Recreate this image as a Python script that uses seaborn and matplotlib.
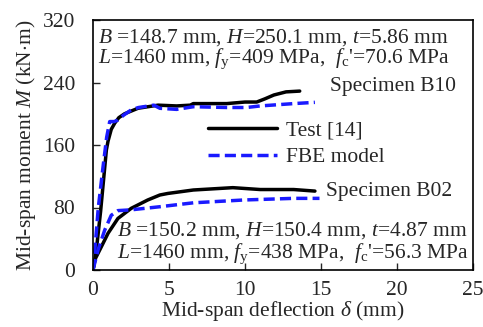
import numpy as np
import pandas as pd
import matplotlib
matplotlib.use("Agg")
import matplotlib.pyplot as plt
import seaborn as sns

# ---- data ----
b10_test_x = [0, 0.1, 0.22, 0.5, 0.88, 0.99, 1.2, 1.43, 1.7, 2.08, 2.96, 4.28, 5.5, 6.4, 6.6, 8.8, 10.0, 10.77, 11.3, 11.9, 12.7, 13.6]
b10_test_y = [0, 10, 25.6, 75, 153.6, 165, 180, 188, 195, 200, 207, 211, 210, 211, 213, 213, 215, 215, 219, 224, 228, 229]

b10_fbe_x = [0, 0.1, 0.35, 0.66, 0.9, 1.1, 1.4, 1.64, 2.0, 2.52, 3.0, 4.0, 4.4, 5.5, 6.6, 8.8, 10.1, 11.0, 13.2, 14.6]
b10_fbe_y = [0, 21, 80, 132, 170, 190, 190, 192, 198, 205, 208, 211, 207, 205.6, 209, 208, 208, 210, 213, 214.6]

b02_test_x = [0, 0.11, 0.55, 0.99, 1.64, 2.52, 3.6, 4.4, 4.93, 6.6, 9.2, 11.0, 13.2, 14.6]
b02_test_y = [0, 12.8, 29.8, 47, 66, 79, 89.6, 96, 98, 102.4, 105.4, 103, 103, 101]

b02_fbe_x = [0, 0.33, 0.77, 1.2, 1.64, 2.5, 4.4, 6.6, 9.9, 13.2, 14.9]
b02_fbe_y = [0, 25.6, 51, 70, 76, 77, 81, 86, 89.6, 91.7, 91.7]

x_ticks = [0, 5, 10, 15, 20, 25]
y_ticks = [0, 80, 160, 240, 320]

sns.set_style("ticks")
plt.rcParams["font.family"] = ["Liberation Serif", "DejaVu Serif"]
plt.rcParams["mathtext.fontset"] = "custom"
plt.rcParams["mathtext.rm"] = "Liberation Serif"
plt.rcParams["mathtext.it"] = "Liberation Serif:italic"
plt.rcParams["mathtext.bf"] = "Liberation Serif:bold"

fig = plt.figure(figsize=(4.83, 3.27), dpi=100)
ax = fig.add_axes([93/483, 1-270/327, 380/483, 250/327])

fs = 15.5
black = "#000000"
blue = "#1a1aff"
lw = 2.5
dash = [3.2, 1.5]

sns.lineplot(x=b10_test_x, y=b10_test_y, ax=ax, color=black, lw=lw, sort=False, label="Test [14]", estimator=None)
sns.lineplot(x=b10_fbe_x, y=b10_fbe_y, ax=ax, color=blue, lw=lw, sort=False, label="FBE model", estimator=None)
ax.lines[-1].set_dashes(dash)
sns.lineplot(x=b02_test_x, y=b02_test_y, ax=ax, color=black, lw=lw, sort=False, estimator=None)
sns.lineplot(x=b02_fbe_x, y=b02_fbe_y, ax=ax, color=blue, lw=lw, sort=False, estimator=None)
ax.lines[-1].set_dashes(dash)

ax.set_xlim(0, 25)
ax.set_ylim(0, 320)
ax.set_xticks(x_ticks)
ax.set_yticks(y_ticks)
ax.tick_params(direction="in", length=5, width=1, labelsize=fs)
ax.tick_params(axis="x", pad=8)
ax.tick_params(axis="y", pad=13)
for s in ax.spines.values():
    s.set_linewidth(1.2)
    s.set_color("black")

ax.set_xlabel(r"Mid-span deflection $\delta$ (mm)", fontsize=fs, labelpad=-1)
ax.set_ylabel(r"Mid-span moment $M$ (kN$\cdot$m)", fontsize=fs, labelpad=3)

leg = ax.legend(loc="center left", bbox_to_anchor=(0.275, 0.505), frameon=False,
                fontsize=fs, handlelength=3.2, handletextpad=0.4, labelspacing=0.3,
                borderpad=0)
for h in leg.get_lines():
    h.set_linewidth(lw)
leg.get_lines()[1].set_dashes(dash)

tfs = 15.5
ax.text(0.3, 298, r"$B$ =148.7 mm, $H$=250.1 mm, $t$=5.86 mm", fontsize=tfs, va="center", ha="left")
ax.text(0.3, 270, r"$L$=1460 mm, $f_\mathrm{y}$=409 MPa,  $f_\mathrm{c}$'=70.6 MPa", fontsize=tfs, va="center", ha="left")
ax.text(1.6, 51, r"$B$ =150.2 mm, $H$=150.4 mm, $t$=4.87 mm", fontsize=tfs, va="center", ha="left")
ax.text(1.6, 21, r"$L$=1460 mm, $f_\mathrm{y}$=438 MPa,  $f_\mathrm{c}$'=56.3 MPa", fontsize=tfs, va="center", ha="left")
ax.text(15.6, 235, "Specimen B10", fontsize=tfs, va="center", ha="left")
ax.text(15.3, 101, "Specimen B02", fontsize=tfs, va="center", ha="left")

fig.savefig("out.png", dpi=100)
